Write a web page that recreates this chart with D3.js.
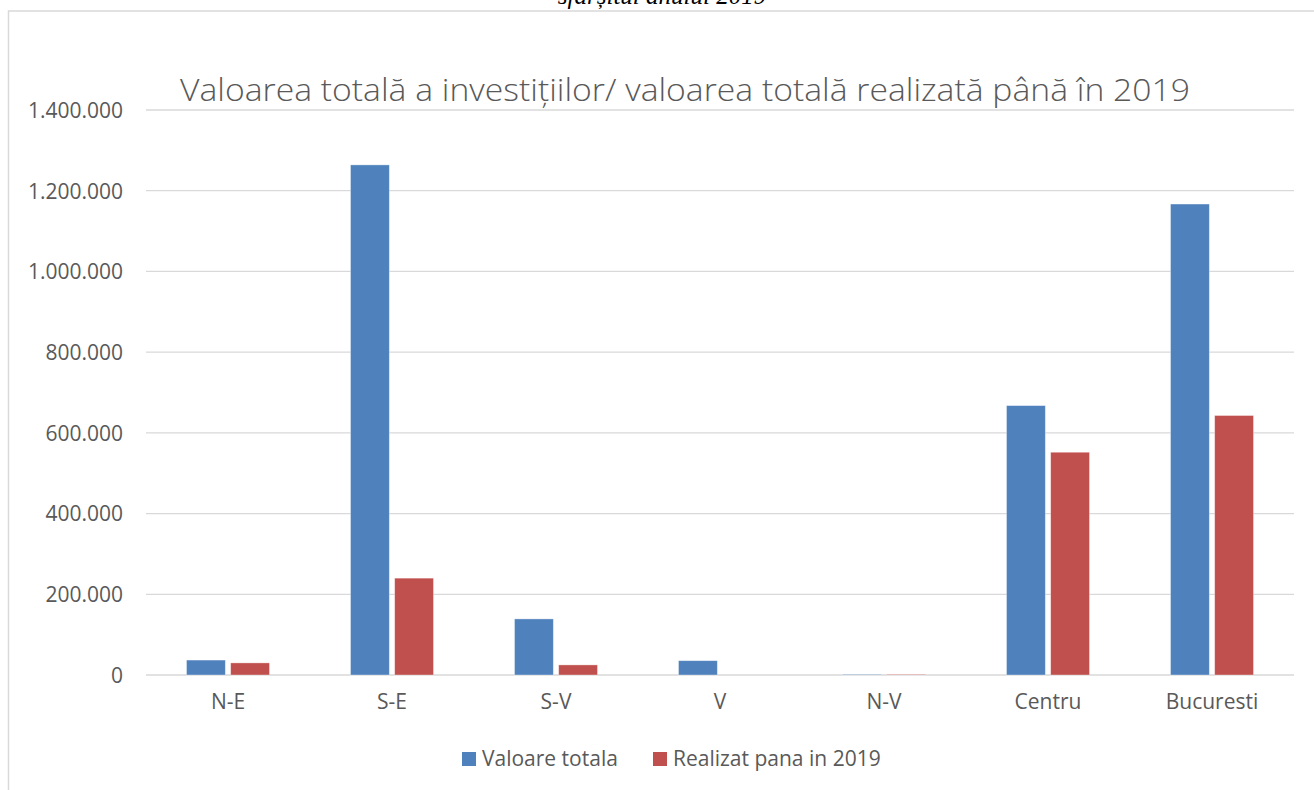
<!DOCTYPE html>
<html>
<head>
<meta charset="utf-8">
<script src="https://cdn.jsdelivr.net/npm/d3@7"></script>
<style>
  html, body { margin: 0; padding: 0; background: #fff; }
  svg { display: block; }
</style>
</head>
<body>
<main></main>
<script>
// date
const regions = ['N-E', 'S-E', 'S-V', 'V', 'N-V', 'Centru', 'Bucuresti'];
const seriesNames = ['Valoare totala', 'Realizat pana in 2019'];
const valoareTotala = [37000, 1264000, 139000, 35500, 1500, 667500, 1167000];
const realizat2019 = [30000, 240000, 25000, 0, 1500, 552000, 643000];
const yTicks = [0, 200000, 400000, 600000, 800000, 1000000, 1200000, 1400000];
const colors = ['#4f81bd', '#c0504d'];

const width = 1314;
const height = 790;
const plot = { left: 146, right: 1294, top: 110, bottom: 675 };
const labelFont = '"Open Sans", sans-serif';

const svg = d3.select('main').append('svg')
    .attr('width', width)
    .attr('height', height);

// rama graficului (tăiată în partea de jos/dreapta)
svg.append('path')
    .attr('d', `M8.5,${height} V11 H${width}`)
    .attr('fill', 'none')
    .attr('stroke', '#d9d9d9')
    .attr('stroke-width', 1.5);

// textul de deasupra, tăiat de margine ca în original
svg.append('text')
    .attr('x', 662)
    .attr('y', 4)
    .attr('text-anchor', 'middle')
    .attr('font-family', '"Liberation Serif", "DejaVu Serif", serif')
    .attr('font-style', 'italic')
    .attr('font-size', 25)
    .attr('fill', '#000')
    .text('sfârșitul anului 2019');

const x0 = d3.scaleBand()
    .domain(regions)
    .range([plot.left, plot.right]);

const x1 = d3.scaleBand()
    .domain(seriesNames)
    .range([x0.bandwidth() / 2 - 41.5, x0.bandwidth() / 2 + 41.5])
    .paddingInner(10 / 83);

const y = d3.scaleLinear()
    .domain([0, 1400000])
    .range([plot.bottom, plot.top]);

const fmt = d3.formatLocale({ decimal: ',', thousands: '.', grouping: [3], currency: ['', ''] }).format(',d');

// linii de grilă
svg.append('g')
    .selectAll('line')
    .data(yTicks)
    .join('line')
    .attr('x1', plot.left)
    .attr('x2', plot.right)
    .attr('y1', d => y(d))
    .attr('y2', d => y(d))
    .attr('stroke', '#d9d9d9')
    .attr('stroke-width', 1.3);

// axa Y
const yAxis = svg.append('g')
    .attr('transform', `translate(${plot.left},0)`)
    .call(d3.axisLeft(y).tickValues(yTicks).tickFormat(fmt).tickSize(0).tickPadding(23));
yAxis.select('.domain').remove();
yAxis.selectAll('text')
    .attr('font-family', labelFont)
    .attr('font-size', 21)
    .attr('fill', '#595959')
    .attr('dy', '0.35em');

// axa X
const xAxis = svg.append('g')
    .attr('transform', `translate(0,${plot.bottom})`)
    .call(d3.axisBottom(x0).tickSize(0).tickPadding(19));
xAxis.select('.domain').remove();
xAxis.selectAll('text')
    .attr('font-family', labelFont)
    .attr('font-size', 21)
    .attr('fill', '#595959');

// bare
const data = regions.map((r, i) => ({ region: r, values: [valoareTotala[i], realizat2019[i]] }));

svg.append('g')
    .selectAll('g')
    .data(data)
    .join('g')
    .attr('transform', d => `translate(${x0(d.region)},0)`)
    .selectAll('rect')
    .data(d => d.values.map((v, j) => ({ key: seriesNames[j], value: v, color: colors[j] })))
    .join('rect')
    .attr('x', d => x1(d.key))
    .attr('width', x1.bandwidth())
    .attr('y', d => y(d.value))
    .attr('height', d => y(0) - y(d.value))
    .attr('fill', d => d.color)
    .attr('stroke', '#fff')
    .attr('stroke-opacity', 0.45)
    .attr('stroke-width', 0.8);

// titlu
svg.append('text')
    .attr('x', 685)
    .attr('y', 101)
    .attr('text-anchor', 'middle')
    .attr('font-family', labelFont)
    .attr('font-weight', 300)
    .attr('font-size', 32)
    .attr('fill', '#595959')
    .attr('textLength', 1010)
    .attr('lengthAdjust', 'spacingAndGlyphs')
    .text('Valoarea totală a investițiilor/ valoarea totală realizată până în 2019');

// legendă
const legendX = [462, 653];
const legend = svg.append('g')
    .selectAll('g')
    .data(seriesNames)
    .join('g')
    .attr('transform', (d, i) => `translate(${legendX[i]},752)`);

legend.append('rect')
    .attr('width', 14)
    .attr('height', 14)
    .attr('fill', (d, i) => colors[i]);

legend.append('text')
    .attr('x', 20)
    .attr('y', 7)
    .attr('dy', '0.35em')
    .attr('font-family', labelFont)
    .attr('font-size', 21)
    .attr('fill', '#595959')
    .text(d => d);
</script>
</body>
</html>
